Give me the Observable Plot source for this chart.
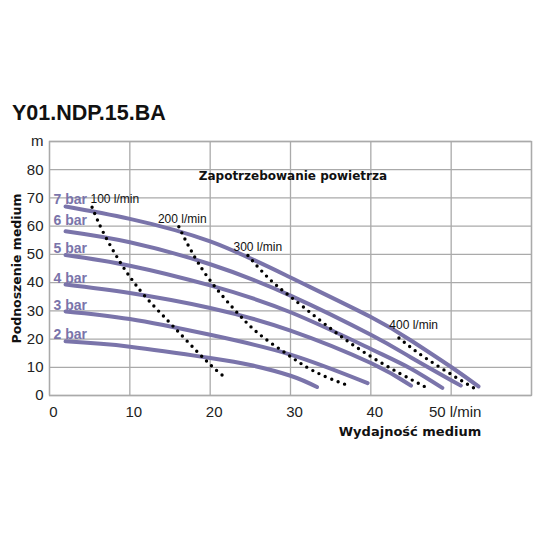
<!DOCTYPE html>
<html>
<head>
<meta charset="utf-8">
<script src="https://cdn.jsdelivr.net/npm/d3@7"></script>
<script src="https://cdn.jsdelivr.net/npm/@observablehq/plot@0.6"></script>
<style>
  html, body { margin: 0; padding: 0; background: #fff; }
  #wrap { width: 540px; }
  #title { position: relative; height: 100px; }
  #title span { position: absolute; left: 12px; top: 103px; font: bold 21.5px "Liberation Sans", Arial, sans-serif; line-height: 21.5px; color: #111; white-space: nowrap; }
  svg { display: block; }
</style>
</head>
<body>
<div id="wrap">
  <div id="title"><span>Y01.NDP.15.BA</span></div>
  <div id="chart"></div>
</div>
<script>
// ---- data ----
const titleText = "Y01.NDP.15.BA";
const xLabel = "Wydajność medium";
const yLabel = "Podnoszenie medium";
const airTitle = "Zapotrzebowanie powietrza";

const xTicks = [0, 10, 20, 30, 40, 50, 60];
const yTicks = [0, 10, 20, 30, 40, 50, 60, 70, 80, 90];

// pressure curves: [flow l/min, head m]
const pressureNames = ["7 bar", "6 bar", "5 bar", "4 bar", "3 bar", "2 bar"];
const bar7 = [[2,67],[10,62.6],[20,54.6],[30,41.8],[40,27.8],[45,19.5],[50,10.1],[53.4,3.2]];
const bar6 = [[2,58.2],[10,54.3],[20,46.5],[30,35.4],[40,21.5],[45,13.5],[51.2,3.5]];
const bar5 = [[2,49.8],[10,46],[20,39],[30,29.5],[40,16.5],[45,9.5],[48.9,2.7]];
const bar4 = [[2,39.3],[10,36.3],[20,31],[30,23],[40,11.5],[45,3.5]];
const bar3 = [[2,29.8],[10,27.1],[20,21.5],[30,14.5],[39.6,4.4]];
const bar2 = [[2,19.2],[10,17.3],[20,13.3],[25,10.8],[30,7],[33.3,3]];
const pressureCurves = [bar7, bar6, bar5, bar4, bar3, bar2];
const pressureLabelX = [0.5, 0.5, 0.5, 0.5, 0.5, 0.5];
const pressureLabelY = [69.5, 62.1, 52, 41.4, 31.9, 21.6];

// air consumption curves
const airNames = ["100 l/min", "200 l/min", "300 l/min", "400 l/min"];
const air100 = [[5.3,66.7],[6.8,57.2],[8.8,47.2],[10.1,41.7],[12,34.8],[15.3,24.8],[19.4,12.6],[22,6.1]];
const air200 = [[16.1,59.8],[17.5,52],[19.8,41.5],[23,30.5],[26,22],[29.5,14.8],[33,8.5],[37.5,3.2]];
const air300 = [[24.7,49.6],[27.3,41.5],[30,35],[33.3,27.5],[36.6,20.3],[40,13.8],[43.5,8],[46.8,3]];
const air400 = [[43.5,20.4],[45.8,15.3],[48.7,9.8],[51.6,4.7],[52.8,2.7]];
const airCurves = [air100, air200, air300, air400];
const airLabelX = [5.1, 13.5, 22.9, 42.3];
const airLabelY = [69.4, 62.5, 52.7, 24.9];
const airTitleX = 30.3;
const airTitleY = 77.6;

// ---- build tables ----
const pressureRows = pressureCurves.flatMap((pts, i) => pts.map(([x, y]) => ({x, y, s: pressureNames[i]})));
const airRows = airCurves.flatMap((pts, i) => pts.map(([x, y]) => ({x, y, s: airNames[i]})));
const pressureLabels = pressureNames.map((t, i) => ({t, x: pressureLabelX[i], y: pressureLabelY[i]}));
const airLabels = airNames.map((t, i) => ({t, x: airLabelX[i], y: airLabelY[i]}));

const purple = "#7a74aa";
const gridColor = "#aaaaaa";

const chart = Plot.plot({
  width: 540,
  height: 440,
  marginLeft: 49,
  marginRight: 9,
  marginTop: 41,
  marginBottom: 145,
  x: {domain: [0, 60]},
  y: {domain: [0, 90]},
  style: {fontFamily: "'Liberation Sans', Arial, sans-serif", fontSize: "15px", color: "#222", background: "#fff"},
  marks: [
    Plot.gridX(xTicks, {stroke: gridColor, strokeOpacity: 1, strokeWidth: 1.3}),
    Plot.gridY(yTicks, {stroke: gridColor, strokeOpacity: 1, strokeWidth: 1.3}),
    Plot.frame({stroke: gridColor, strokeWidth: 1.3}),
    Plot.axisX(xTicks, {tickSize: 0, tickPadding: 11, dx: 4, fontSize: 15, label: null,
      tickFormat: d => d === 50 ? "50 l/min" : d === 60 ? "" : String(d)}),
    Plot.axisY(yTicks, {tickSize: 0, tickPadding: 6, fontSize: 15, label: null,
      tickFormat: d => d === 90 ? "m" : String(d)}),
    Plot.line(pressureRows, {x: "x", y: "y", z: "s", stroke: purple, strokeWidth: 4, curve: "natural"}),
    Plot.line(airRows, {x: "x", y: "y", z: "s", stroke: "#000", strokeWidth: 3.4, strokeDasharray: "0,6.9", strokeLinecap: "round", curve: "natural"}),
    Plot.text(pressureLabels, {x: "x", y: "y", text: "t", textAnchor: "start", lineAnchor: "middle", fill: purple, fontWeight: "bold", fontSize: 14}),
    Plot.text(airLabels, {x: "x", y: "y", text: "t", textAnchor: "start", lineAnchor: "middle", fill: "#111", fontSize: 12}),
    Plot.text([airTitle], {x: airTitleX, y: airTitleY, text: d => d, textAnchor: "middle", lineAnchor: "middle", fill: "#111", fontWeight: "bold", fontSize: 12, fontFamily: "'DejaVu Sans', Verdana, sans-serif"}),
    Plot.text([xLabel], {frameAnchor: "bottom", text: d => d, dx: 119.5, dy: 36, fill: "#111", fontWeight: "bold", fontSize: 13, fontFamily: "'DejaVu Sans', Verdana, sans-serif", lineAnchor: "middle"}),
    Plot.text([yLabel], {frameAnchor: "left", text: d => d, dx: -33, rotate: -90, fill: "#111", fontWeight: "bold", fontSize: 12.5, fontFamily: "'DejaVu Sans', Verdana, sans-serif", lineAnchor: "middle", textAnchor: "middle"})
  ]
});
document.getElementById("chart").appendChild(chart);
document.querySelector("#title span").textContent = titleText;
</script>
</body>
</html>
